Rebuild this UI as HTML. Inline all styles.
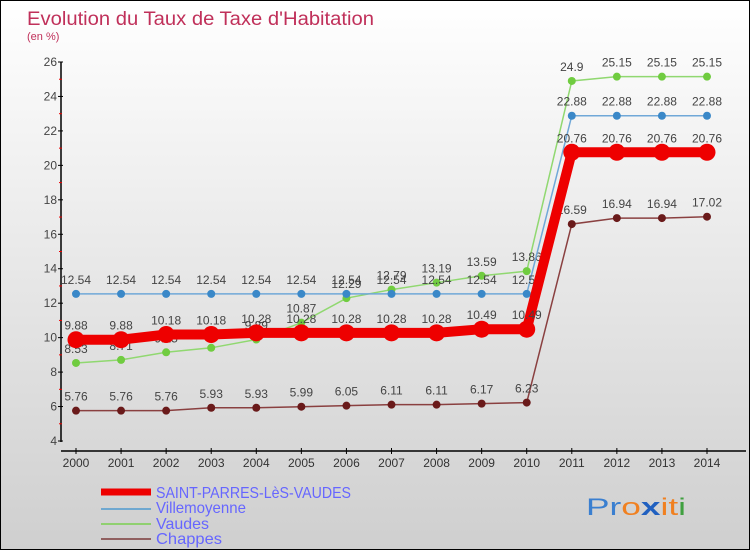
<!DOCTYPE html>
<html><head><meta charset="utf-8"><style>
body{margin:0}
#c{width:750px;height:550px;position:relative;box-sizing:border-box;border:1px solid #000;background:linear-gradient(#ffffff,#cfcfcf);font-family:"Liberation Sans",sans-serif;overflow:hidden}
</style></head><body>
<div id="c">
<svg id="s" width="748" height="548" style="position:absolute;left:0;top:0">
<text x="26" y="24" font-size="19" fill="#c0305a" textLength="347" lengthAdjust="spacingAndGlyphs">Evolution du Taux de Taxe d'Habitation</text>
<text x="26" y="39" font-size="11" fill="#c0305a">(en %)</text>
<g id="axes"></g><g id="series"></g>
<g>
<line x1="100" y1="491" x2="150" y2="491" stroke="#ee0000" stroke-width="7"/>
<text x="155" y="497" font-size="16" fill="#6666ff" textLength="195" lengthAdjust="spacingAndGlyphs">SAINT-PARRES-LèS-VAUDES</text>
<line x1="100" y1="508" x2="150" y2="508" stroke="#6fa8d0" stroke-width="2"/>
<text x="155" y="512" font-size="16" fill="#6666ff" textLength="90" lengthAdjust="spacingAndGlyphs">Villemoyenne</text>
<line x1="100" y1="523" x2="150" y2="523" stroke="#90d070" stroke-width="2"/>
<text x="155" y="528" font-size="16" fill="#6666ff" textLength="53" lengthAdjust="spacingAndGlyphs">Vaudes</text>
<line x1="100" y1="538" x2="150" y2="538" stroke="#906060" stroke-width="2"/>
<text x="155" y="543" font-size="16" fill="#6666ff" textLength="66" lengthAdjust="spacingAndGlyphs">Chappes</text>
</g>
<text x="585" y="514" font-size="24" textLength="100" lengthAdjust="spacingAndGlyphs"><tspan fill="#3a7fd0">Pr</tspan><tspan fill="#f08020">o</tspan><tspan fill="#2060c0" font-weight="bold">x</tspan><tspan fill="#f08020">it</tspan><tspan fill="#40a040">i</tspan></text>
</svg>
</div>
<script>
const years=[2000,2001,2002,2003,2004,2005,2006,2007,2008,2009,2010,2011,2012,2013,2014];
const yTicks=[4,6,8,10,12,14,16,18,20,22,24,26];
const saintParres=[9.88,9.88,10.18,10.18,10.28,10.28,10.28,10.28,10.28,10.49,10.49,20.76,20.76,20.76,20.76];
const villemoyenne=[12.54,12.54,12.54,12.54,12.54,12.54,12.54,12.54,12.54,12.54,12.54,22.88,22.88,22.88,22.88];
const vaudes=[8.53,8.71,9.15,9.41,9.89,10.87,12.29,12.79,13.19,13.59,13.86,24.9,25.15,25.15,25.15];
const chappes=[5.76,5.76,5.76,5.93,5.93,5.99,6.05,6.11,6.11,6.17,6.23,16.59,16.94,16.94,17.02];
const NS="http://www.w3.org/2000/svg";
const X=i=>75+i*(631/14);
const Y=v=>440-(v-4)*(379/22);
function mk(t,a,p){const e=document.createElementNS(NS,t);for(const k in a)e.setAttribute(k,a[k]);p.appendChild(e);return e;}
const ax=document.getElementById('axes');
let l=mk('line',{x1:60,y1:61,x2:60,y2:441,stroke:'#000','stroke-width':1.5},ax);


l=mk('line',{x1:60,y1:450,x2:745,y2:450,stroke:'#000','stroke-width':1.5},ax);


yTicks.forEach((v,i)=>{
  mk('line',{x1:57,y1:Y(v),x2:62,y2:Y(v),stroke:'#000'},ax);
  if(i<yTicks.length-1)mk('line',{x1:58,y1:Y(v+1),x2:61,y2:Y(v+1),stroke:'#e00'},ax);
  const t=mk('text',{x:56,y:Y(v)+4,'font-size':12,fill:'#444','text-anchor':'end'},ax);t.textContent=v;
  
  
});
years.forEach((y,i)=>{
  mk('line',{x1:X(i),y1:447,x2:X(i),y2:453,stroke:'#000'},ax);
  const t=mk('text',{x:X(i),y:466,'font-size':12,fill:'#333','text-anchor':'middle'},ax);t.textContent=y;
  
  
});
const sg=document.getElementById('series');
function series(name,data,color,w,r,mc){
  const g=mk('g',{},sg);
  
  
  mk('polyline',{points:data.map((v,i)=>X(i)+','+Y(v)).join(' '),fill:'none',stroke:color,'stroke-width':w},g);
  data.forEach((v,i)=>{
    const c=mk('circle',{cx:X(i),cy:Y(v),r:r,fill:mc},g);
    
    
    const t=mk('text',{x:X(i),y:Y(v)-10,'font-size':12,fill:'#444','text-anchor':'middle'},g);t.textContent=v;
    
    
  });
}
series('chappes',chappes,'#8a4040',1.5,4,'#6a1a1a');
series('vaudes',vaudes,'#90d870',1.5,4,'#70cc40');
series('villemoyenne',villemoyenne,'#70a8d8',1.5,4,'#3a88c8');
series('saint-parres',saintParres,'#ee0000',10,8.5,'#ee0000');
</script>
</body></html>
